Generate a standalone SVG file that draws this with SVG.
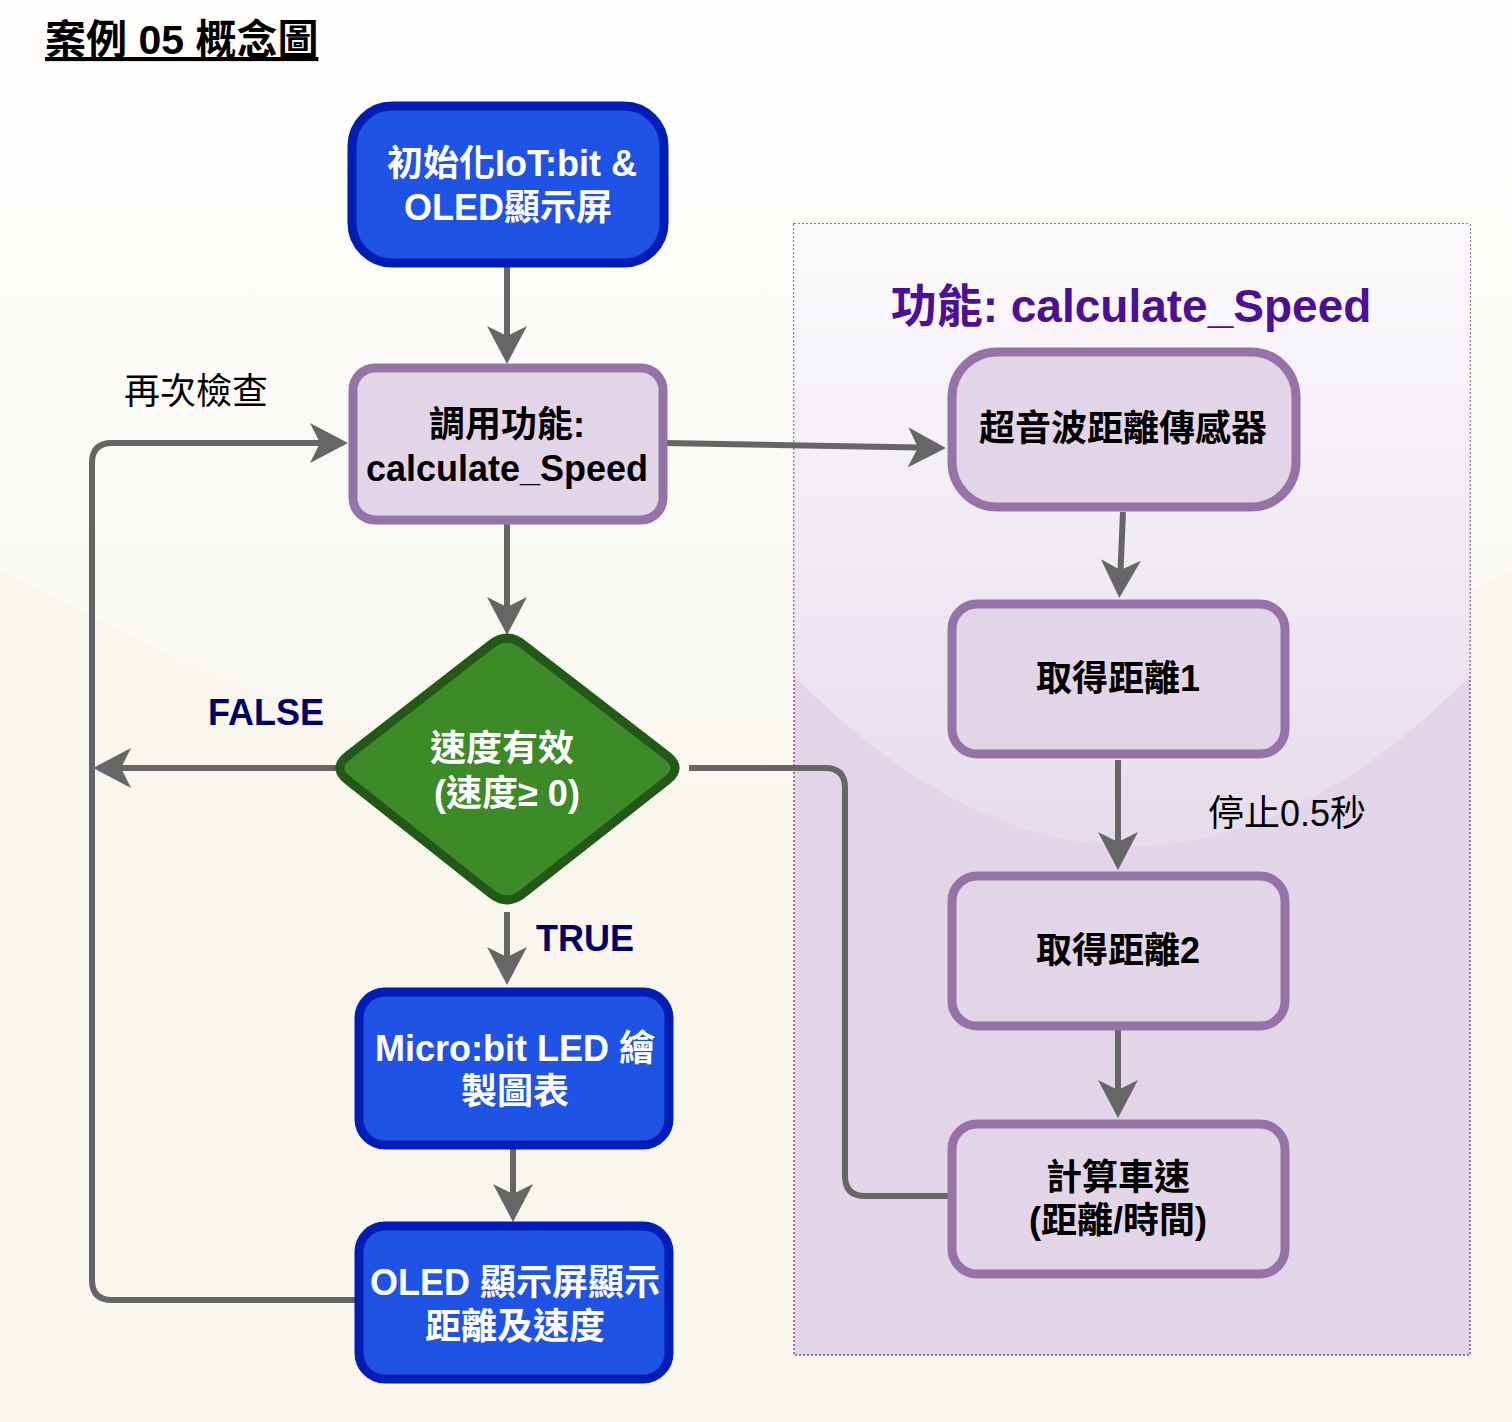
<svg xmlns="http://www.w3.org/2000/svg" width="1512" height="1422" viewBox="0 0 1512 1422">
  <defs>
    <linearGradient id="glassPage" gradientUnits="userSpaceOnUse" x1="0" y1="0" x2="0" y2="853">
      <stop offset="0" stop-color="#ffffff" stop-opacity="0.9"/>
      <stop offset="1" stop-color="#ffffff" stop-opacity="0.1"/>
    </linearGradient>
    <linearGradient id="glassBox" gradientUnits="userSpaceOnUse" x1="0" y1="224" x2="0" y2="903">
      <stop offset="0" stop-color="#ffffff" stop-opacity="0.9"/>
      <stop offset="1" stop-color="#ffffff" stop-opacity="0.1"/>
    </linearGradient>
    <marker id="arrow" viewBox="0 0 38 40" refX="10" refY="20" markerWidth="38" markerHeight="40" markerUnits="userSpaceOnUse" orient="auto">
      <path d="M0,0 L38,20 L0,40 L10,20 Z" fill="#666666"/>
    </marker>
    <style>
      .t { font-family: "Liberation Sans", "Noto Sans CJK TC", sans-serif; text-anchor: middle; }
      .b { font-weight: bold; font-size: 36px; }
      .w { fill: #ffffff; }
      .k { fill: #000000; }
      .blue { fill: #1f53e6; stroke: #001db6; stroke-width: 9; }
      .purple { fill: #e1d5e7; stroke: #9673a6; stroke-width: 9; }
      .edge { fill: none; stroke: #666666; stroke-width: 6; }
      .lbl { font-family: "Liberation Sans", "Noto Sans CJK TC", sans-serif; font-size: 36px; }
      .navy { fill: #000066; font-weight: bold; }
    </style>
  </defs>

  <!-- background -->
  <rect x="0" y="0" width="1512" height="1422" fill="#f9f6ee"/>
  <path d="M0,0 L0,569 Q756,995 1512,569 L1512,0 Z" fill="url(#glassPage)"/>

  <!-- title -->
  <text x="45" y="54" font-family="'Liberation Sans', 'Noto Sans CJK TC', sans-serif" font-size="41" font-weight="bold" fill="#000000" text-decoration="underline">案例 05 概念圖</text>

  <!-- container -->
  <g id="container">
    <rect x="794" y="224" width="676" height="1131" fill="#e1d5e7" stroke="#9673a6" stroke-width="2" stroke-dasharray="2 2"/>
    <path d="M794,224 L794,676 Q1132,1016 1470,676 L1470,224 Z" fill="url(#glassBox)"/>
    <text x="1131" y="322" class="t" font-size="46" font-weight="bold" fill="#4c0f96">功能: calculate_Speed</text>
  </g>

  <!-- connectors -->
  <g id="connectors">
    <path class="edge" d="M507,262 L507,336" marker-end="url(#arrow)"/>
    <path class="edge" d="M664,443 L918,447.5" marker-end="url(#arrow)"/>
    <path class="edge" d="M507,524 L507,607" marker-end="url(#arrow)"/>
    <path class="edge" d="M358,768 L121,768" marker-end="url(#arrow)"/>
    <path class="edge" d="M507,912 L507,957" marker-end="url(#arrow)"/>
    <path class="edge" d="M513,1147 L513,1194" marker-end="url(#arrow)"/>
    <path class="edge" d="M357,1300 L112,1300 Q92,1300 92,1280 L92,463 Q92,443 112,443 L320,443" marker-end="url(#arrow)"/>
    <path class="edge" d="M1123,512 L1120.5,570" marker-end="url(#arrow)"/>
    <path class="edge" d="M1118,760 L1118,842" marker-end="url(#arrow)"/>
    <path class="edge" d="M1118,1030 L1118,1090" marker-end="url(#arrow)"/>
    <path class="edge" d="M689,768 L825,768 Q845,768 845,788 L845,1176 Q845,1196 865,1196 L948,1196"/>
    <text x="196" y="404" class="lbl" text-anchor="middle" fill="#000000">再次檢查</text>
    <text x="266" y="725" class="lbl navy" text-anchor="middle">FALSE</text>
    <text x="585" y="951" class="lbl navy" text-anchor="middle">TRUE</text>
    <text x="1287" y="826" class="lbl" text-anchor="middle" fill="#000000">停止0.5秒</text>
  </g>

  <!-- nodes -->
  <g id="init">
    <rect class="blue" x="352" y="106" width="312" height="157" rx="40"/>
    <text x="512" y="176" class="t b w">初始化IoT:bit &amp;</text>
    <text x="508" y="220" class="t b w">OLED顯示屏</text>
  </g>

  <g id="call">
    <rect class="purple" x="353" y="368" width="310" height="152" rx="22"/>
    <text x="507" y="437" class="t b k">調用功能:</text>
    <text x="507" y="481" class="t b k">calculate_Speed</text>
  </g>

  <g id="decision">
    <path d="M522.8,644.3 L667.2,755.7 Q683,768 667.2,780.3 L522.8,893.7 Q507,906 491.2,893.7 L347.8,780.3 Q332,768 347.8,755.7 L491.2,644.3 Q507,632 522.8,644.3 Z" fill="#3d8b28" stroke="#225916" stroke-width="9" stroke-linejoin="round"/>
    <text x="502" y="761" class="t b w">速度有效</text>
    <text x="507" y="806" class="t b w">(速度≥ 0)</text>
  </g>

  <g id="microbit">
    <rect class="blue" x="359" y="992" width="310" height="153" rx="26"/>
    <text x="515" y="1061" class="t b w">Micro:bit LED 繪</text>
    <text x="515" y="1104" class="t b w">製圖表</text>
  </g>

  <g id="oled">
    <rect class="blue" x="359" y="1226" width="310" height="153" rx="26"/>
    <text x="515" y="1295" class="t b w">OLED 顯示屏顯示</text>
    <text x="515" y="1339" class="t b w">距離及速度</text>
  </g>

  <g id="sensor">
    <rect class="purple" x="952" y="352" width="344" height="155" rx="45"/>
    <text x="1123" y="441" class="t b k">超音波距離傳感器</text>
  </g>

  <g id="dist1">
    <rect class="purple" x="952" y="604" width="333" height="150" rx="25"/>
    <text x="1118" y="691" class="t b k">取得距離1</text>
  </g>

  <g id="dist2">
    <rect class="purple" x="952" y="876" width="333" height="150" rx="25"/>
    <text x="1118" y="963" class="t b k">取得距離2</text>
  </g>

  <g id="calc">
    <rect class="purple" x="952" y="1124" width="333" height="150" rx="25"/>
    <text x="1118" y="1190" class="t b k">計算車速</text>
    <text x="1118" y="1233" class="t b k">(距離/時間)</text>
  </g>
</svg>
